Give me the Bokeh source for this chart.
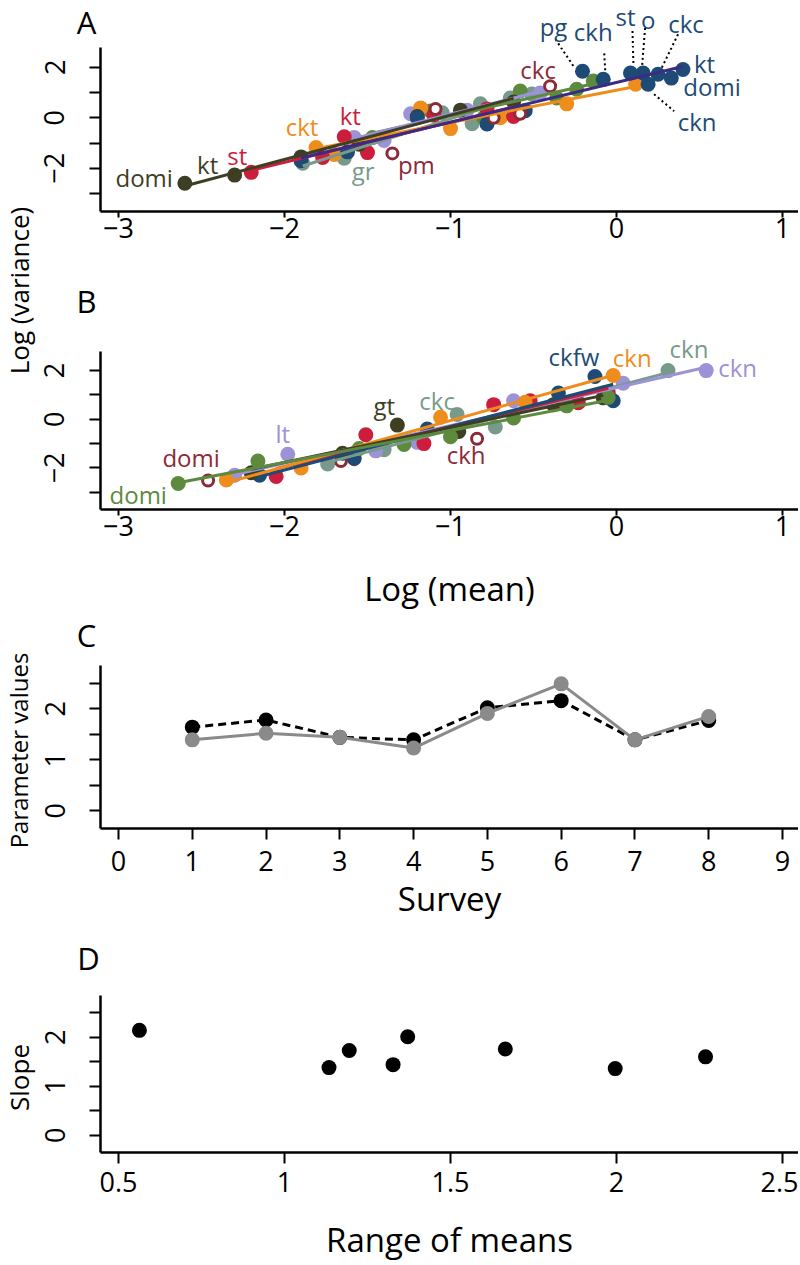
import math
import numpy as np
from bokeh.plotting import figure
from bokeh.layouts import column, row
from bokeh.models import FixedTicker, Label, Range1d
from bokeh.core.properties import value
from bokeh.embed import file_html
from bokeh.resources import INLINE

# ---------------- data ----------------
# Panel A : log(mean) vs log(variance), one series per survey colour
A_navy_x = [-1.90, -1.62, -1.20, -0.78, -0.55, -0.205, -0.08, 0.084, 0.16, 0.25, 0.40, 0.33, 0.19]
A_navy_y = [-1.70, -1.35, 0.00, -0.25, 0.28, 1.84, 1.52, 1.77, 1.77, 1.72, 1.91, 1.57, 1.33]
A_red_x = [-2.20, -1.77, -1.64, -1.50, -1.10, -0.78, -0.62]
A_red_y = [-2.16, -1.57, -0.75, -1.38, 0.10, 0.35, 0.05]
A_orange_x = [-1.81, -1.70, -1.18, -1.00, -0.70, -0.30, 0.115]
A_orange_y = [-1.18, -1.45, 0.39, -0.43, 0.00, 0.55, 1.33]
A_dkolive_x = [-2.60, -2.30, -1.90, -1.55, -1.20, -0.94, -0.62]
A_dkolive_y = [-2.59, -2.27, -1.55, -1.05, 0.05, 0.30, 0.62]
A_green_x = [-1.47, -1.12, -0.80, -0.58, -0.36, -0.24, -0.14]
A_green_y = [-0.78, 0.27, 0.00, 1.06, 0.78, 1.13, 1.45]
A_sage_x = [-1.89, -1.64, -1.05, -0.87, -0.82, -0.64, -0.51]
A_sage_y = [-1.80, -1.60, 0.20, -0.24, 0.55, 0.78, 0.94]
A_lav_x = [-1.58, -1.40, -1.24, -0.90, -0.46]
A_lav_y = [-0.78, -0.90, 0.16, 0.30, 0.98]
A_maroon_x = [-1.35, -1.09, -0.74, -0.58, -0.40]
A_maroon_y = [-1.41, 0.35, 0.00, 0.16, 1.25]

# Panel B
B_green_x = [-2.64, -2.16, -1.55, -1.28, -1.00, -0.62, -0.30, -0.05]
B_green_y = [-2.64, -1.72, -1.20, -1.04, -0.72, 0.05, 0.55, 0.90]
B_maroon_x = [-2.46, -1.66, -1.58, -0.84]
B_maroon_y = [-2.52, -1.72, -1.64, -0.80]
B_lav_x = [-2.30, -1.98, -1.45, -1.20, -0.62, 0.04, 0.54]
B_lav_y = [-2.30, -1.44, -1.30, -0.95, 0.76, 1.48, 2.00]
B_dkolive_x = [-2.20, -1.65, -1.32, -0.95, -0.38, -0.08]
B_dkolive_y = [-2.20, -1.40, -0.24, -0.50, 0.60, 0.88]
B_sage_x = [-1.74, -1.40, -0.96, -0.73, -0.07, 0.31]
B_sage_y = [-1.84, -1.25, 0.20, -0.32, 1.10, 2.00]
B_navy_x = [-2.15, -1.58, -1.14, -0.35, -0.13, -0.02]
B_navy_y = [-2.30, -1.60, -0.40, 1.08, 1.76, 0.76]
B_orange_x = [-2.35, -1.90, -1.06, -0.55, -0.02]
B_orange_y = [-2.50, -2.00, 0.08, 0.70, 1.80]
B_red_x = [-2.05, -1.51, -1.16, -0.74, -0.52, -0.23, -0.05]
B_red_y = [-2.35, -0.64, -1.00, 0.60, 0.76, 0.68, 1.10]

# Panel C : parameter values per survey
surveys = [1, 2, 3, 4, 5, 6, 7, 8]
c_black = [1.64, 1.78, 1.44, 1.39, 2.02, 2.16, 1.39, 1.77]
c_grey = [1.39, 1.52, 1.44, 1.23, 1.91, 2.49, 1.39, 1.85]

# Panel D : slope vs range of means
d_range = [0.563, 1.134, 1.195, 1.327, 1.371, 1.665, 1.996, 2.268]
d_slope = [2.14, 1.38, 1.73, 1.44, 2.01, 1.76, 1.36, 1.60]

# ticks
ab_xticks = [-3, -2, -1, 0, 1]
ab_xlabels = ["\u22123", "\u22122", "\u22121", "0", "1"]
ab_yticks = [-3, -2, -1, 0, 1, 2]
ab_ylabels = ["", "\u22122", "", "0", "", "2"]
c_xticks = [0, 1, 2, 3, 4, 5, 6, 7, 8, 9]
c_xlabels = ["0", "1", "2", "3", "4", "5", "6", "7", "8", "9"]
cd_yticks = [0, 0.5, 1, 1.5, 2, 2.5]
cd_ylabels = ["0", "", "1", "", "2", ""]
d_xticks = [0.5, 1, 1.5, 2, 2.5]
d_xlabels = ["0.5", "1", "1.5", "2", "2.5"]

# ---------------- style ----------------
FONT = "Open Sans"
NAVY = "#1d4b76"
INDIGO = "#3b2b85"
RED = "#cc1d3c"
ORANGE = "#ef8d1c"
DKOLIVE = "#3e3e22"
GREEN = "#5d8a3c"
SAGE = "#789a8c"
LAV = "#9c92d6"
MAROON = "#8c2b38"
GREY = "#8a8a8a"

FR_L, FR_R = 100, 798      # page x of every frame
LEFT_W = 36                # width of the column holding the y titles
TXT_PX = 24
LET_PX = 31
HALF = 0.68                # half text-box height, in em


def blank(p):
    p.outline_line_color = None
    p.background_fill_color = "white"
    p.border_fill_color = "white"


def make_fig(page_top, fh, bottom, xr, yr):
    p = figure(width=FR_R - LEFT_W, height=fh + bottom,
               x_range=Range1d(*xr), y_range=Range1d(*yr),
               toolbar_location=None, output_backend="svg", frame_align=False,
               min_border_left=FR_L - LEFT_W, min_border_right=0,
               min_border_top=0, min_border_bottom=bottom)
    blank(p)
    p.xgrid.visible = False
    p.ygrid.visible = False
    geo = dict(top=page_top, fh=fh, xr=xr, yr=yr)
    return p, geo


def to_data(geo, px, py):
    x0, x1 = geo["xr"]
    y0, y1 = geo["yr"]
    x = x0 + (px - FR_L) / (FR_R - FR_L) * (x1 - x0)
    y = y1 - (py - geo["top"]) / geo["fh"] * (y1 - y0)
    return x, y


def page_y(geo, y):
    y0, y1 = geo["yr"]
    return geo["top"] + (y1 - y) / (y1 - y0) * geo["fh"]


def make_strip(page_top, height, geo):
    """A figure without axes just above a panel, sharing the panel's pixel mapping."""
    xa, _ = to_data(geo, LEFT_W, 0)
    xb, _ = to_data(geo, FR_R, 0)
    _, ya = to_data(geo, 0, page_top + height)
    _, yb = to_data(geo, 0, page_top)
    s = figure(width=FR_R - LEFT_W, height=height, x_range=Range1d(xa, xb),
               y_range=Range1d(ya, yb), x_axis_type=None, y_axis_type=None,
               min_border=0, frame_align=False,
               toolbar_location=None, output_backend="svg")
    blank(s)
    return s, (page_top, page_top + height)


def px_scale(geo):
    x0, x1 = geo["xr"]
    y0, y1 = geo["yr"]
    return (FR_R - FR_L) / (x1 - x0), geo["fh"] / (y1 - y0)


def style_axes(p, xt, xl, yt, yl, x_tick_out, x_standoff):
    p.xaxis.ticker = FixedTicker(ticks=xt)
    p.xaxis.major_label_overrides = {t: l for t, l in zip(xt, xl)}
    p.yaxis.ticker = FixedTicker(ticks=yt)
    p.yaxis.major_label_overrides = {t: l for t, l in zip(yt, yl)}
    for ax in (p.xaxis[0], p.yaxis[0]):
        ax.axis_line_width = 2.5
        ax.axis_line_color = "black"
        ax.major_tick_line_width = 2
        ax.major_tick_line_color = "black"
        ax.major_tick_in = 0
        ax.minor_tick_line_color = None
        ax.major_label_text_font = FONT
        ax.major_label_text_font_size = "27px"
        ax.major_label_text_color = "black"
        ax.axis_label_text_font = FONT
        ax.axis_label_text_font_style = "normal"
        ax.axis_label_text_color = "black"
        ax.axis_label_text_font_size = "33px"
    p.xaxis.major_tick_out = x_tick_out
    p.xaxis.major_label_standoff = x_standoff
    p.yaxis.major_tick_out = 11
    p.yaxis.major_label_standoff = 25
    p.yaxis.major_label_orientation = "vertical"


def letter(s, span, geo, px, py, text):
    h = HALF * LET_PX
    py = min(max(py, span[0] + h), span[1] - h)
    x, y = to_data(geo, px, py)
    s.add_layout(Label(x=x, y=y, text=text, text_font=FONT, text_font_size=f"{LET_PX}px",
                       text_color="black", text_align="center", text_baseline="middle"))


def draw_marks(p, series):
    for name, (xs, ys, col, lcol, hollow) in series.items():
        if hollow:
            p.scatter(xs, ys, size=11, marker="circle", fill_color="white",
                      line_color=col, line_width=3)
        else:
            p.scatter(xs, ys, size=15, marker="circle", fill_color=col, line_color=None)
    for name, (xs, ys, col, lcol, hollow) in series.items():
        if lcol is None:
            continue
        k, b = np.polyfit(xs, ys, 1)
        lx = [min(xs), max(xs)]
        p.line(lx, [k * v + b for v in lx], line_color=lcol, line_width=3)


def draw_leaders(figs, geo, series, leaders):
    sx, sy = px_scale(geo)
    for name, idx, (ax_, ay_), (bx_, by_) in leaders:
        x, y = series[name][0][idx], series[name][1][idx]
        for f, _span in figs:
            f.segment(x0=[x + ax_ / sx], y0=[y + ay_ / sy], x1=[x + bx_ / sx],
                      y1=[y + by_ / sy], line_color="black", line_width=2, line_dash="2 3")


def draw_labels(figs, geo, series, labels):
    """Each label goes into the one figure (strip or panel) that holds it whole."""
    h = HALF * TXT_PX
    for name, idx, text, dx, dy, align in labels:
        xs, ys, col = series[name][0], series[name][1], series[name][2]
        x, y = xs[idx], ys[idx]
        py_pt = page_y(geo, y)
        c = py_pt - dy
        best = None
        for f, (top, bot) in figs:
            cc = min(max(c, top + h), bot - h)
            if best is None or abs(cc - c) < best[0]:
                best = (abs(cc - c), f, cc)
        _, f, cc = best
        f.text(x=[x], y=[y], text=[text], text_color=col,
               text_font=value(FONT), text_font_size=f"{TXT_PX}px", text_align=align,
               text_baseline="middle", x_offset=dx, y_offset=cc - py_pt)


# ---------------- panel A ----------------
ab_xr = (-3.108, 1.096)
ab_yr = (-3.71, 2.78)
pA, gA = make_fig(47, 164, 48, ab_xr, ab_yr)
style_axes(pA, ab_xticks, ab_xlabels, ab_yticks, ab_ylabels, 6, 0)
sA, spanA = make_strip(0, 47, gA)
seriesA = {
    "sage": (A_sage_x, A_sage_y, SAGE, SAGE, False),
    "green": (A_green_x, A_green_y, GREEN, GREEN, False),
    "lav": (A_lav_x, A_lav_y, LAV, LAV, False),
    "orange": (A_orange_x, A_orange_y, ORANGE, ORANGE, False),
    "red": (A_red_x, A_red_y, RED, RED, False),
    "dkolive": (A_dkolive_x, A_dkolive_y, DKOLIVE, DKOLIVE, False),
    "navy": (A_navy_x, A_navy_y, NAVY, INDIGO, False),
    "maroon": (A_maroon_x, A_maroon_y, MAROON, None, True),
}
labelsA = [
    ("dkolive", 0, "domi", -12, 6, "right"),
    ("dkolive", 1, "kt", -27, 11, "center"),
    ("red", 0, "st", -14, 17, "center"),
    ("orange", 0, "ckt", -14, 21, "center"),
    ("red", 2, "kt", 6, 21, "center"),
    ("sage", 1, "gr", 19, -12, "center"),
    ("maroon", 0, "pm", 24, -11, "center"),
    ("maroon", 4, "ckc", -12, 17, "center"),
    ("navy", 5, "pg", -29, 45, "center"),
    ("navy", 6, "ckh", -10, 40, "center"),
    ("navy", 7, "st", -5, 57, "center"),
    ("navy", 8, "o", 5, 54, "center"),
    ("navy", 9, "ckc", 28, 51, "center"),
    ("navy", 10, "kt", 11, 6, "left"),
    ("navy", 11, "domi", 12, -8, "left"),
    ("navy", 12, "ckn", 49, -37, "center"),
]
leadersA = [
    ("navy", 5, (-27, 32), (-9, 5)),
    ("navy", 6, (1, 26), (2, 8)),
    ("navy", 7, (2, 42), (3, 7)),
    ("navy", 8, (2, 45), (-1, 7)),
    ("navy", 9, (20, 40), (3, 5)),
    ("navy", 12, (6, -10), (26, -27)),
]
figsA = [(sA, spanA), (pA, (47, 211))]
draw_marks(pA, seriesA)
draw_leaders(figsA, gA, seriesA, leadersA)
draw_labels(figsA, gA, seriesA, labelsA)
letter(sA, spanA, gA, 86, 17, "A")

# ---------------- panel B ----------------
# frame reaches up to y=324 px so the top labels fit; the axis line stops at the data box
b_extra = 28 / (163 / (ab_yr[1] - ab_yr[0]))
pB, gB = make_fig(324, 191, 98, ab_xr, (ab_yr[0], ab_yr[1] + b_extra))
style_axes(pB, ab_xticks, ab_xlabels, ab_yticks, ab_ylabels, 6, 0)
pB.yaxis.bounds = ab_yr
pB.xaxis.axis_label = "Log (mean)"
pB.xaxis.axis_label_standoff = 27
sB, spanB = make_strip(259, 65, gB)
seriesB = {
    "maroon": (B_maroon_x, B_maroon_y, MAROON, None, True),
    "sage": (B_sage_x, B_sage_y, SAGE, SAGE, False),
    "lav": (B_lav_x, B_lav_y, LAV, LAV, False),
    "red": (B_red_x, B_red_y, RED, RED, False),
    "navy": (B_navy_x, B_navy_y, NAVY, NAVY, False),
    "orange": (B_orange_x, B_orange_y, ORANGE, ORANGE, False),
    "dkolive": (B_dkolive_x, B_dkolive_y, DKOLIVE, DKOLIVE, False),
    "green": (B_green_x, B_green_y, GREEN, GREEN, False),
}
labelsB = [
    ("green", 0, "domi", -40, -15, "center"),
    ("maroon", 0, "domi", -17, 23, "center"),
    ("lav", 1, "lt", -5, 21, "center"),
    ("dkolive", 2, "gt", -13, 20, "center"),
    ("sage", 2, "ckc", -20, 14, "center"),
    ("maroon", 3, "ckh", -11, -16, "center"),
    ("navy", 4, "ckfw", -21, 20, "center"),
    ("orange", 4, "ckn", 19, 18, "center"),
    ("sage", 5, "ckn", 21, 22, "center"),
    ("lav", 6, "ckn", 12, 3, "left"),
]
figsB = [(sB, spanB), (pB, (324, 515))]
draw_marks(pB, seriesB)
draw_labels(figsB, gB, seriesB, labelsB)
letter(sB, spanB, gB, 86, 300, "B")

# ---------------- panel C ----------------
cd_yr = (-0.35, 2.85)
pC, gC = make_fig(665, 163, 107, (-0.244, 9.217), cd_yr)
style_axes(pC, c_xticks, c_xlabels, cd_yticks, cd_ylabels, 11, 11)
pC.xaxis.axis_label = "Survey"
pC.xaxis.axis_label_standoff = 2
pC.line(surveys, c_black, line_color="black", line_width=3, line_dash="8 5")
pC.scatter(surveys, c_black, size=15, marker="circle", fill_color="black", line_color=None)
pC.line(surveys, c_grey, line_color=GREY, line_width=3)
pC.scatter(surveys, c_grey, size=15, marker="circle", fill_color=GREY, line_color=None)
sC, spanC = make_strip(613, 52, gC)
letter(sC, spanC, gC, 86, 628, "C")

# ---------------- panel D ----------------
pD, gD = make_fig(995, 163, 106, (0.4458, 2.548), cd_yr)
style_axes(pD, d_xticks, d_xlabels, cd_yticks, cd_ylabels, 11, 8)
pD.xaxis.axis_label = "Range of means"
pD.xaxis.axis_label_standoff = 22
pD.scatter(d_range, d_slope, size=15, marker="circle", fill_color="black", line_color=None)
sD, spanD = make_strip(935, 60, gD)
letter(sD, spanD, gD, 88, 957, "D")

# ---------------- left column with the y titles ----------------
right = column(sA, pA, sB, pB, sC, pC, sD, pD)
total_h = sum(f.height for f in (sA, pA, sB, pB, sC, pC, sD, pD))
pL = figure(width=LEFT_W, height=total_h, x_range=Range1d(0, LEFT_W),
            y_range=Range1d(0, total_h), x_axis_type=None, y_axis_type=None,
            min_border=0, frame_align=False, toolbar_location=None, output_backend="svg")
blank(pL)
for text, py, size in (("Log (variance)", 290, "26px"),
                       ("Parameter values", 750, "24px"),
                       ("Slope", 1077, "26px")):
    pL.add_layout(Label(x=18, y=total_h - py, text=text, text_font=FONT,
                        text_font_size=size, text_color="black", text_align="center",
                        text_baseline="middle", angle=math.pi / 2))

layout = row(pL, right)
open("out.html", "w").write(file_html(layout, INLINE))
